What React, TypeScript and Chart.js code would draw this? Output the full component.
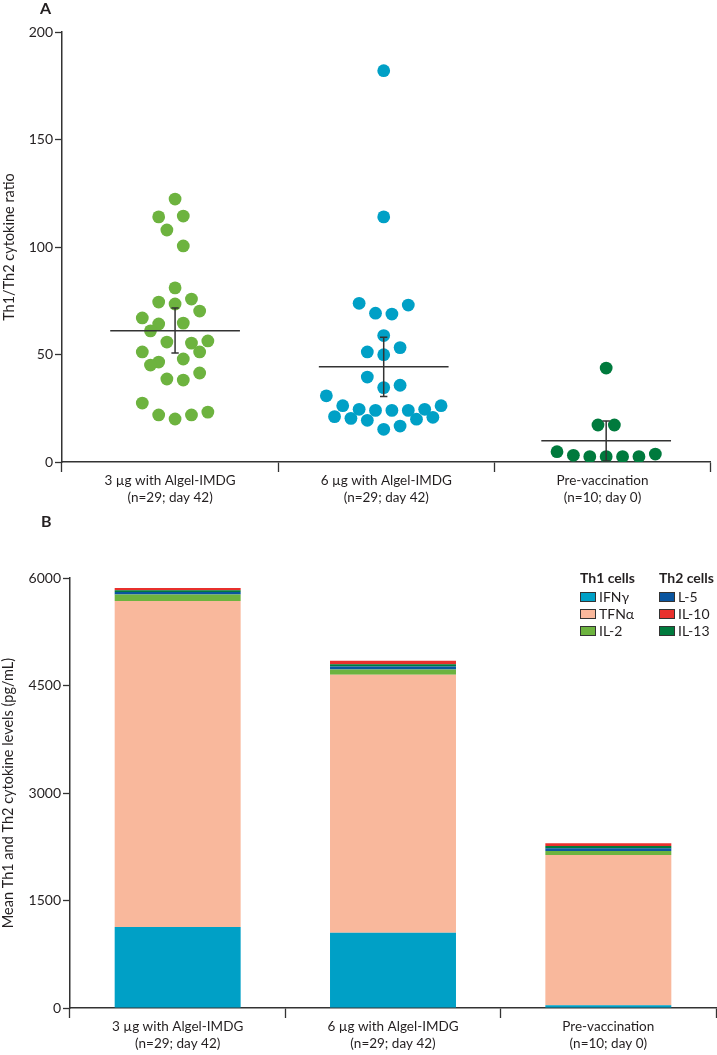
import React, { useEffect, useRef } from 'react';
import { Chart, registerables } from 'chart.js';

Chart.register(...registerables);

const FONT = 'Lato, "Open Sans", sans-serif';
const TEXT = '#231f20';
const AXIS = '#333333';

// ---------- Panel A data ----------
const groupLabels = [
  ['3 µg with Algel-IMDG', '(n=29; day 42)'],
  ['6 µg with Algel-IMDG', '(n=29; day 42)'],
  ['Pre-vaccination', '(n=10; day 0)'],
];
const ratioTicks = [0, 50, 100, 150, 200];

const ratio3ug = [122.3, 114, 114.4, 107.9, 100.5, 81, 74.4, 75.8, 73.5, 70.2, 67, 64.2, 64.6, 61, 55.8, 55.3, 56.3, 51.2, 51.2, 47.9, 46.5, 45.1, 38.6, 38.1, 41.4, 27.4, 21.9, 20, 21.9, 23.2];
const slot3ug = [0, -2, 1, -1, 1, 0, -2, 2, 0, 3, -4, -2, 1, -3, -1, 2, 4, -4, 3, 1, -2, -3, -1, 1, 3, -4, -2, 0, 2, 4];

const ratio6ug = [182, 114, 73.8, 73, 69.2, 68.8, 58.8, 51.2, 49.9, 53.2, 39.5, 34.6, 35.7, 30.8, 26.2, 24.5, 24, 24, 24, 24.5, 26.2, 21.1, 20.3, 19.4, 19.9, 20.8, 15.2, 16.7];
const slot6ug = [0, 0, -3, 3, -1, 1, 0, -2, 0, 2, -2, 0, 2, -7, -5, -3, -1, 1, 3, 5, 7, -6, -4, -2, 4, 6, 0, 2];

const ratioPre = [43.7, 17.2, 17.2, 4.8, 3.1, 2.5, 2.5, 2.5, 2.5, 3.7];
const slotPre = [0, -1, 1, -6, -4, -2, 0, 2, 4, 6];

const groupMeans = [61, 44.3, 9.9];
const semLow = [50.7, 30.5, 0.5];
const semHigh = [71.6, 58, 19.1];

// ---------- Panel B data ----------
const levelTicks = [0, 1500, 3000, 4500, 6000];
const ifng = [1130, 1050, 40];
const tnfa = [4550, 3600, 2095];
const il2 = [90, 75, 55];
const il5 = [35, 40, 40];
const il13 = [25, 30, 30];
const il10 = [30, 50, 40];

// ---------- styles ----------
const groupColors = ['#6db33f', '#00a0c6', '#007a3d'];
const groupCenters = [0.523, 1.488, 2.517];
const slotWidth = 0.0379;
const meanHalf = 0.3;
const capHalf = 0.017;

const C_IFNG = '#00a0c6';
const C_TNFA = '#f9b89c';
const C_IL2 = '#6db33f';
const C_IL5 = '#0a559f';
const C_IL10 = '#e8302c';
const C_IL13 = '#007a3d';

const meanSemPlugin = {
  id: 'meanSem',
  afterDatasetsDraw(chart: any) {
    const xs = chart.scales.xv;
    const ys = chart.scales.y;
    const ctx = chart.ctx;
    ctx.save();
    ctx.strokeStyle = AXIS;
    ctx.lineWidth = 1.5;
    groupCenters.forEach((c, i) => {
      const xc = xs.getPixelForValue(c);
      const xl = xs.getPixelForValue(c - meanHalf);
      const xr = xs.getPixelForValue(c + meanHalf);
      const cl = xs.getPixelForValue(c - capHalf);
      const cr = xs.getPixelForValue(c + capHalf);
      const ym = ys.getPixelForValue(groupMeans[i]);
      const yl = ys.getPixelForValue(semLow[i]);
      const yh = ys.getPixelForValue(semHigh[i]);
      ctx.beginPath();
      ctx.moveTo(xl, ym);
      ctx.lineTo(xr, ym);
      ctx.moveTo(xc, yl);
      ctx.lineTo(xc, yh);
      ctx.moveTo(cl, yl);
      ctx.lineTo(cr, yl);
      ctx.moveTo(cl, yh);
      ctx.lineTo(cr, yh);
      ctx.stroke();
    });
    ctx.restore();
  },
};

function makePoints(vals: number[], slots: number[], g: number) {
  return vals.map((v, i) => ({ x: groupCenters[g] + slots[i] * slotWidth, y: v }));
}

const tickFont = { family: FONT, size: 14 };
const titleFont = { family: FONT, size: 14.5 };
const plainTick = (v: any) => String(v);

function PanelA() {
  const ref = useRef<HTMLCanvasElement>(null);
  useEffect(() => {
    const ch = new Chart(ref.current!, {
      type: 'scatter',
      data: {
        datasets: [
          { data: makePoints(ratio3ug, slot3ug, 0), backgroundColor: groupColors[0], pointRadius: 6.4, pointBorderWidth: 0, xAxisID: 'xv' },
          { data: makePoints(ratio6ug, slot6ug, 1), backgroundColor: groupColors[1], pointRadius: 6.4, pointBorderWidth: 0, xAxisID: 'xv' },
          { data: makePoints(ratioPre, slotPre, 2), backgroundColor: groupColors[2], pointRadius: 6.4, pointBorderWidth: 0, xAxisID: 'xv' },
        ],
      },
      options: {
        responsive: false,
        animation: false,
        events: [],
        layout: { padding: { top: 32, right: 3, left: 0, bottom: 0 } },
        plugins: { legend: { display: false }, tooltip: { enabled: false } },
        scales: {
          xv: { type: 'linear', min: 0, max: 3, display: false },
          x: {
            type: 'category',
            labels: groupLabels as any,
            offset: true,
            position: 'bottom',
            grid: { offset: true, drawOnChartArea: false, tickLength: 10, tickColor: AXIS, tickWidth: 1.3 },
            border: { color: AXIS, width: 1.5 },
            ticks: { color: TEXT, font: { family: FONT, size: 13.5 }, padding: 1, maxRotation: 0, autoSkip: false },
            afterFit: (s: any) => { s.height = 43; },
          },
          y: {
            type: 'linear',
            min: 0,
            max: 200,
            afterBuildTicks: (s: any) => { s.ticks = ratioTicks.map((v) => ({ value: v })); },
            grid: { drawOnChartArea: false, tickLength: 7, tickColor: AXIS, tickWidth: 1.3 },
            border: { color: AXIS, width: 1.5 },
            ticks: { color: TEXT, font: tickFont, padding: 2, callback: plainTick },
            title: { display: true, text: 'Th1/Th2 cytokine ratio', color: TEXT, font: titleFont, padding: { top: 1, bottom: 0 } },
            afterFit: (s: any) => { s.width = 62; },
          },
        },
      } as any,
      plugins: [meanSemPlugin],
    });
    return () => ch.destroy();
  }, []);
  return <canvas ref={ref} width={717} height={505} style={{ position: 'absolute', left: 0, top: 0 }} />;
}

function PanelB() {
  const ref = useRef<HTMLCanvasElement>(null);
  useEffect(() => {
    const ds = (label: string, data: number[], color: string) => ({
      label, data, backgroundColor: color, borderWidth: 0, barPercentage: 1, categoryPercentage: 0.585,
    });
    const ch = new Chart(ref.current!, {
      type: 'bar',
      data: {
        labels: groupLabels as any,
        datasets: [
          ds('IFNγ', ifng, C_IFNG),
          ds('TFNα', tnfa, C_TNFA),
          ds('IL-2', il2, C_IL2),
          ds('L-5', il5, C_IL5),
          ds('IL-13', il13, C_IL13),
          ds('IL-10', il10, C_IL10),
        ],
      },
      options: {
        responsive: false,
        animation: false,
        events: [],
        layout: { padding: { top: 73, right: 1, left: 0, bottom: 0 } },
        plugins: { legend: { display: false }, tooltip: { enabled: false } },
        scales: {
          x: {
            stacked: true,
            offset: true,
            grid: { offset: true, drawOnChartArea: false, tickLength: 10, tickColor: AXIS, tickWidth: 1.3 },
            border: { color: AXIS, width: 1.5 },
            ticks: { color: TEXT, font: { family: FONT, size: 13.5 }, padding: 1, maxRotation: 0, autoSkip: false },
            afterFit: (s: any) => { s.height = 47; },
          },
          y: {
            stacked: true,
            min: 0,
            max: 6000,
            afterBuildTicks: (s: any) => { s.ticks = levelTicks.map((v) => ({ value: v })); },
            grid: { drawOnChartArea: false, tickLength: 7, tickColor: AXIS, tickWidth: 1.3 },
            border: { color: AXIS, width: 1.5 },
            ticks: { color: TEXT, font: tickFont, padding: 2, callback: plainTick },
            title: { display: true, text: 'Mean Th1 and Th2 cytokine levels (pg/mL)', color: TEXT, font: titleFont, padding: { top: 0, bottom: 0 } },
            afterFit: (s: any) => { s.width = 70; },
          },
        },
      } as any,
    });
    return () => ch.destroy();
  }, []);
  return <canvas ref={ref} width={717} height={550} style={{ position: 'absolute', left: 0, top: 505 }} />;
}

const legendTh1 = [
  { label: 'IFNγ', color: C_IFNG },
  { label: 'TFNα', color: C_TNFA },
  { label: 'IL-2', color: C_IL2 },
];
const legendTh2 = [
  { label: 'L-5', color: C_IL5 },
  { label: 'IL-10', color: C_IL10 },
  { label: 'IL-13', color: C_IL13 },
];

function LegendCol({ title, items, left }: { title: string; items: { label: string; color: string }[]; left: number }) {
  return (
    <div style={{ position: 'absolute', left, top: 568, fontFamily: FONT, color: TEXT, fontSize: 14 }}>
      <div style={{ fontWeight: 700, height: 20, lineHeight: '20px' }}>{title}</div>
      {items.map((it) => (
        <div key={it.label} style={{ display: 'flex', alignItems: 'center', height: 17, lineHeight: '17px' }}>
          <span style={{ display: 'inline-block', width: 14, height: 8, background: it.color, border: '1.6px solid #333', marginRight: 3 }} />
          <span>{it.label}</span>
        </div>
      ))}
    </div>
  );
}

export default function App() {
  return (
    <div style={{ position: 'absolute', left: 0, top: 0, width: 717, height: 1055, background: '#fff', overflow: 'hidden' }}>
      <PanelA />
      <PanelB />
      <div style={{ position: 'absolute', left: 40, top: 0, fontFamily: FONT, fontWeight: 700, fontSize: 16, color: TEXT, lineHeight: '16px' }}>A</div>
      <div style={{ position: 'absolute', left: 41, top: 513, fontFamily: FONT, fontWeight: 700, fontSize: 16, color: TEXT, lineHeight: '16px' }}>B</div>
      <LegendCol title="Th1 cells" items={legendTh1} left={580} />
      <LegendCol title="Th2 cells" items={legendTh2} left={659} />
    </div>
  );
}
